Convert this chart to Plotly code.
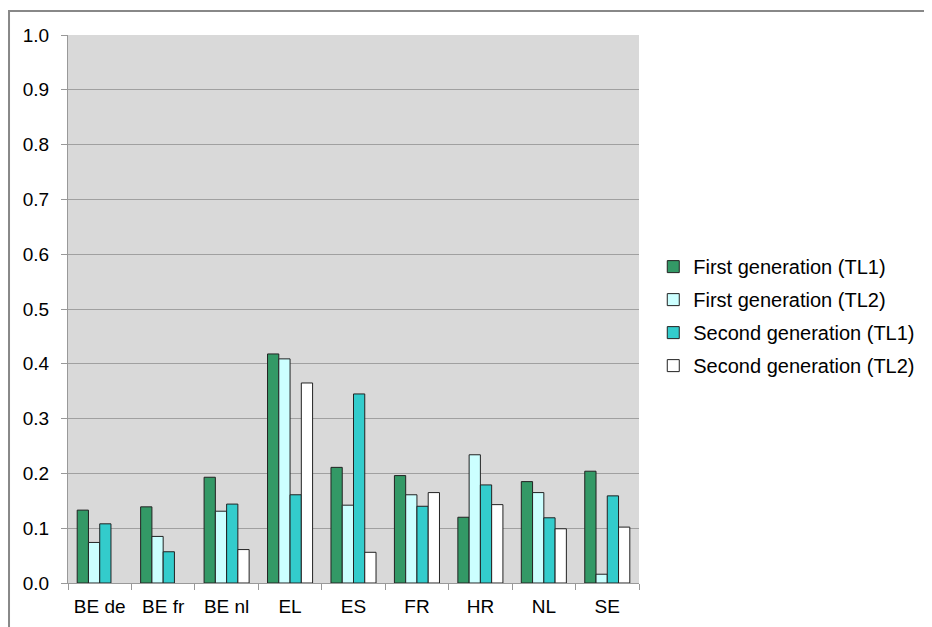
import plotly.graph_objects as go

categories = ["BE de", "BE fr", "BE nl", "EL", "ES", "FR", "HR", "NL", "SE"]
first_tl1 = [0.133, 0.139, 0.193, 0.418, 0.211, 0.196, 0.120, 0.185, 0.204]
first_tl2 = [0.074, 0.085, 0.131, 0.409, 0.142, 0.161, 0.234, 0.165, 0.016]
second_tl1 = [0.108, 0.057, 0.144, 0.161, 0.345, 0.140, 0.179, 0.119, 0.159]
second_tl2 = [None, None, 0.061, 0.365, 0.056, 0.165, 0.143, 0.099, 0.102]
y_ticks = [0.0, 0.1, 0.2, 0.3, 0.4, 0.5, 0.6, 0.7, 0.8, 0.9, 1.0]
y_tick_labels = ["0.0", "0.1", "0.2", "0.3", "0.4", "0.5", "0.6", "0.7", "0.8", "0.9", "1.0"]

series = [
    ("First generation (TL1)", first_tl1, "#339966"),
    ("First generation (TL2)", first_tl2, "#CCFFFF"),
    ("Second generation (TL1)", second_tl1, "#33CCCC"),
    ("Second generation (TL2)", second_tl2, "#FFFFFF"),
]

FONT = "Liberation Sans, Arial, sans-serif"

fig = go.Figure()
for i, (name, vals, col) in enumerate(series):
    fig.add_trace(go.Bar(
        x=categories, y=vals, name=name, legendgroup=f"g{i}",
        marker=dict(color=col, line=dict(color="#222222", width=1)),
    ))

fig.update_layout(
    width=932, height=627,
    margin=dict(l=60, r=301, t=27, b=52),
    paper_bgcolor="white",
    plot_bgcolor="#D9D9D9",
    barmode="group", bargap=0.29, bargroupgap=0,
    font=dict(family=FONT, size=19, color="black"),
    showlegend=True,
    legend=dict(x=1.025, y=0.487, xanchor="left", yanchor="middle",
                traceorder="grouped", tracegroupgap=4,
                font=dict(family=FONT, size=20, color="black"),
                bgcolor="rgba(0,0,0,0)"),
    xaxis=dict(showline=True, linecolor="#999999", linewidth=1,
               ticks="outside", tickson="boundaries", ticklen=6, tickcolor="#999999",
               ticklabelstandoff=6,
               tickfont=dict(size=19), showgrid=False),
    yaxis=dict(range=[0, 1.0], tickvals=y_ticks, ticktext=y_tick_labels,
               showline=True, linecolor="#999999", linewidth=1,
               ticks="outside", ticklen=6, tickcolor="#999999",
               ticklabelstandoff=8,
               gridcolor="#A0A0A0", gridwidth=1.3, zeroline=False,
               tickfont=dict(size=19)),
    shapes=[dict(type="rect", xref="paper", yref="paper",
                 x0=-0.1033, x1=1.8, y0=-0.3, y1=1.0438,
                 line=dict(color="#888888", width=2), fillcolor="rgba(0,0,0,0)", layer="below")],
)

fig.write_html("out.html")
